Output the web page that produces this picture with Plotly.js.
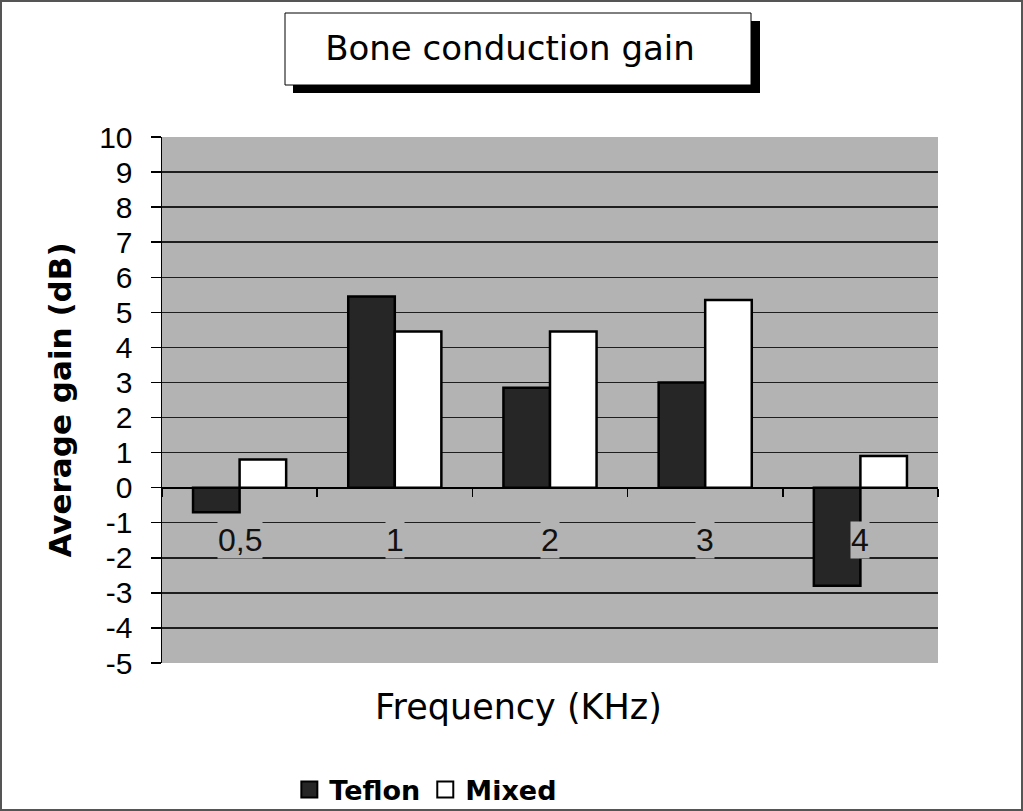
<!DOCTYPE html>
<html>
<head>
<meta charset="utf-8">
<script src="https://cdn.plot.ly/plotly-3.0.1.min.js"></script>
<style>
  html, body { margin: 0; padding: 0; background: #fff; }
  #wrap { position: relative; width: 1023px; height: 811px; }
  #plot { width: 1023px; height: 811px; }
  #frame { position: absolute; left: 0; top: 0; width: 1023px; height: 811px; box-sizing: border-box; border: 2px solid #555; pointer-events: none; }
</style>
</head>
<body>
<div id="wrap"><div id="plot"></div><div id="frame"></div></div>
<script>
// ---- data ----
const categories = ["0,5", "1", "2", "3", "4"];
const teflon = [-0.7, 5.45, 2.85, 3.0, -2.8];
const mixed = [0.8, 4.45, 4.45, 5.35, 0.9];
const yTicks = [10, 9, 8, 7, 6, 5, 4, 3, 2, 1, 0, -1, -2, -3, -4, -5];

const plotBg = '#b3b3b3';
const teflonColor = '#262626';
const mixedColor = '#ffffff';
const traces = [
  { type: 'bar', name: 'Teflon', x: categories, y: teflon, showlegend: false, legendgroup: 't',
    marker: { color: teflonColor, line: { color: '#000', width: 2.5 } } },
  { type: 'bar', name: 'Mixed', x: categories, y: mixed, showlegend: false, legendgroup: 'm',
    marker: { color: mixedColor, line: { color: '#000', width: 2.5 } } },
  // legend entries (larger square swatches like the original)
  { type: 'scatter', mode: 'markers', name: 'Teflon', x: [null], y: [null], legendgroup: 't',
    marker: { symbol: 'square', size: 16, color: teflonColor, line: { color: '#000', width: 2 } } },
  { type: 'scatter', mode: 'markers', name: 'Mixed', x: [null], y: [null], legendgroup: 'm',
    marker: { symbol: 'square', size: 16, color: mixedColor, line: { color: '#000', width: 2 } } }
];

const catLabels = categories.map(c => ({
  x: c, y: -1.5, xref: 'x', yref: 'y', text: c, showarrow: false,
  bgcolor: plotBg, borderpad: 0,
  font: { family: 'Liberation Sans, Arial, sans-serif', size: 32, color: '#111' }
}));

const zeroPos = 5 / 15;

const layout = {
  width: 1023, height: 811,
  margin: { l: 162, r: 85, t: 137, b: 148 },
  paper_bgcolor: '#fff', plot_bgcolor: plotBg,
  barmode: 'group', bargap: 0.4, bargroupgap: 0,
  showlegend: true,
  legend: { orientation: 'h', x: 0.34, xanchor: 'center', yref: 'container', y: 1 - 790 / 811, yanchor: 'middle',
    font: { family: 'DejaVu Sans', size: 27, color: '#000', weight: 'bold' },
    itemwidth: 30, traceorder: 'normal' },
  title: { text: 'Bone conduction gain', xref: 'paper', x: (510 - 162) / 776, xanchor: 'center',
    yref: 'container', y: 1 - 48 / 811, yanchor: 'middle',
    font: { family: 'DejaVu Sans', size: 34, color: '#000' } },
  xaxis: { type: 'category', anchor: 'free', position: zeroPos,
    showticklabels: false, ticks: 'outside', tickson: 'boundaries', ticklen: 8,
    tickcolor: '#000', tickwidth: 1.5, showline: false, showgrid: false, zeroline: false,
    range: [-0.5, 4.5], fixedrange: true },
  yaxis: { range: [-5, 10], tickvals: yTicks, ticktext: yTicks.map(String),
    ticks: 'outside', ticklen: 10, tickcolor: '#000', tickwidth: 1.5,
    ticklabelstandoff: 12,
    showline: true, linecolor: '#000', linewidth: 1.5,
    showgrid: true, gridcolor: '#1e1e1e', gridwidth: 1.5,
    zeroline: true, zerolinecolor: '#000', zerolinewidth: 2,
    tickfont: { family: 'Liberation Sans, Arial, sans-serif', size: 30, color: '#000' },
    title: { text: 'Average gain (dB)', standoff: 18,
      font: { family: 'DejaVu Sans', size: 31, color: '#000', weight: 'bold' } } },
  shapes: [
    { type: 'rect', xref: 'paper', yref: 'paper', layer: 'above',
      x0: (293 - 162) / 776, x1: (760 - 162) / 776, y0: (663 - 93) / 526, y1: (663 - 21) / 526,
      fillcolor: '#000', line: { width: 0 } },
    { type: 'rect', xref: 'paper', yref: 'paper', layer: 'above',
      x0: (285 - 162) / 776, x1: (751 - 162) / 776, y0: (663 - 85) / 526, y1: (663 - 13) / 526,
      fillcolor: '#fff', line: { color: '#000', width: 1 } }
  ],
  annotations: catLabels.concat([
    { text: 'Frequency (KHz)', xref: 'paper', yref: 'paper', x: (518 - 162) / 776, y: (663 - 707) / 526,
      xanchor: 'center', yanchor: 'middle', showarrow: false,
      font: { family: 'DejaVu Sans', size: 35, color: '#000' } }
  ])
};

Plotly.newPlot('plot', traces, layout, { staticPlot: true, displayModeBar: false });
</script>
</body>
</html>
